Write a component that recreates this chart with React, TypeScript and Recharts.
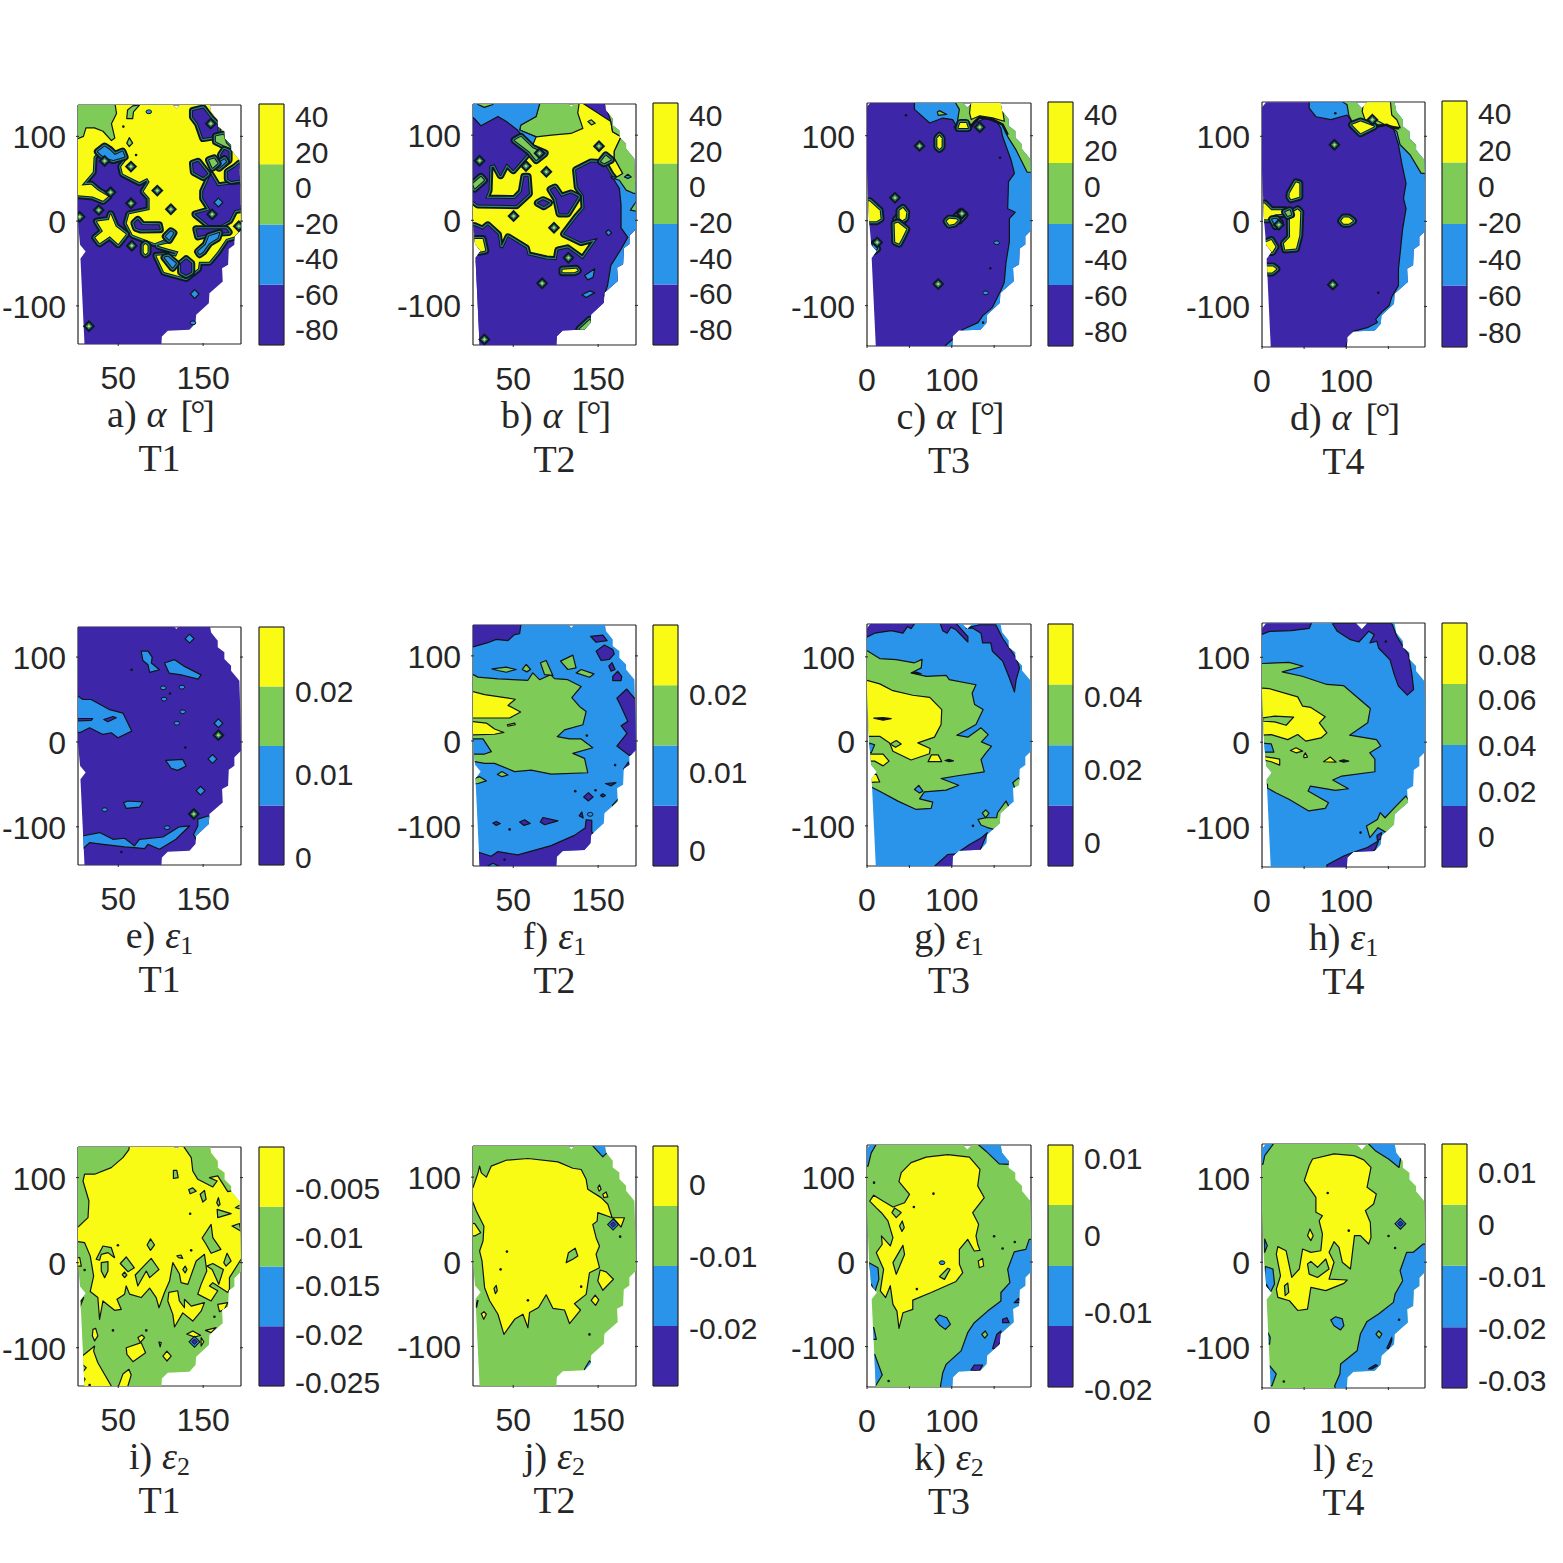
import React from 'react'
import { ComposedChart, ReferenceArea, Scatter, ScatterChart, XAxis, YAxis } from 'recharts'

type Region = { level: number; steep?: boolean; open?: boolean; pts: number[][] }
type Spots = { steep?: number[][]; blue?: number[][]; ring?: number[][]; dot?: number[][]; deep?: number[][] }

const COLORS = ['#3e26a8', '#2a94ea', '#7fcb57', '#f9fb15', '#101418']
const INK = '#262626'

// rim of the measured field, same in all panels
const OUTLINE = [[5, 140], [111.6, 140], [118.5, 133], [124.9, 140], [157.4, 140], [159.4, 129], [167.2, 119.3], [167.2, 111.5], [175, 105.6], [175, 97.7], [182.9, 89.8], [182.9, 84], [192.7, 72.2], [193.9, 30.9], [194.7, -10.4], [186.8, -18.2], [186.8, -28], [180.2, -32.8], [179.4, -51.6], [172.3, -55.6], [173.1, -71.3], [157.4, -85], [156.7, -96.8], [141.8, -110.6], [141, -120.4], [133.9, -128.3], [108.4, -129.4], [101.4, -136.1], [100.6, -150], [10.5, -150], [5.5, -44], [11.6, -36], [5, -28], [2.5, 0], [0, 60], [0, 134]]

const A_REGIONS: Region[] = [
  { level: 3, steep: true, pts: [[-1, 31], [20, 29], [32, 24], [38, 29], [26, 36], [18, 43], [6.5, 42], [20, 58], [21, 76], [32, 88], [38, 80], [52, 80], [57.5, 82], [61, 74], [53.5, 64], [55.5, 56], [75, 46], [84, 51], [87, 46], [80, 35], [87, 27], [87, 13], [63, 8], [60, -2.5], [67, -16], [93, -26], [108, -20], [117, -13], [110, -26], [97, -29], [110, -33], [121, -36], [118, -42], [110, -40], [95, -41], [104, -60], [130, -67], [144, -56], [145, -48], [157, -48], [167, -36], [177, -21], [188, -18], [200, -6], [200, 141], [-1, 141]] },
  { level: 2, pts: [[-1, 140], [46, 140], [48, 127], [42, 115], [46, 98], [42, 95], [32, 106], [22, 110], [12, 110], [9, 100], [-1, 96]] },
  { level: 0, steep: true, pts: [[159, 54.5], [150, 35], [150, 27], [159, 13], [141, 8], [157, -5], [171, -4.5], [181, 1], [187, 13], [200, 15], [200, 43], [185, 43.5], [167, 41]] },
  { level: 0, steep: true, pts: [[138, 130], [150, 133], [159, 121], [167, 113], [167, 104], [163, 100], [150, 98], [144, 115], [138, 123]] },
  { level: 0, steep: true, pts: [[142, -9.6], [177, -9.6], [180, -13], [161, -14], [144, -18]] },
  { level: 1, steep: true, pts: [[144, -36], [153, -28], [157, -18], [169, -14], [167, -20], [157, -26], [150, -36], [146, -39]] },
  { level: 2, steep: true, pts: [[165, 100], [174, 102], [177, 92], [183, 86], [177, 88], [165, 94]] },
  { level: 0, steep: true, pts: [[171, 78], [175, 84], [180, 82], [180, 72], [175, 68]] },
  { level: 1, steep: true, pts: [[165, 66], [175, 73], [177, 70], [169, 63]] },
  { level: 2, steep: true, pts: [[157, 72], [163, 74], [167, 68], [161, 63]] },
  { level: 0, steep: true, pts: [[138, 68], [144, 70], [155, 56], [150, 52], [139, 58]] },
  { level: 0, steep: true, pts: [[179, 58], [187, 63], [193, 68], [200, 68], [200, 50], [183, 47.4], [179, 50]] },
  { level: 0, steep: true, pts: [[69, -2.5], [73, 1.4], [78, -4.5], [98, -5], [99, -9.6], [77, -10], [71, -8]] },
  { level: 3, steep: true, pts: [[25, -0.5], [39, 1.4], [41, 8], [47, -6.4], [59, -15.5], [50, -27], [40, -18], [28, -26], [23, -19.4], [32, -12]] },
  { level: 1, steep: true, pts: [[26, 82], [34, 88], [40, 84], [46, 78], [55, 82], [57.5, 76], [44, 72], [38, 74], [30, 78]] },
  { level: 3, steep: true, pts: [[80, -29], [82, -27], [84.5, -29], [84.5, -37], [82, -39], [80, -37]] },
  { level: 0, steep: true, pts: [[124, -50], [130, -45], [136, -50], [136, -60], [130, -63.4], [124, -60]] },
  { level: 2, pts: [[60, 121], [61, 131], [67, 136], [75, 137], [68, 129], [67, 121]] },
  { level: 2, pts: [[60, 92], [63, 98.5], [67, 92], [63, 88]] },
  { level: 1, steep: true, pts: [[104.5, -43], [108.5, -42], [118, -50], [114, -55]] },
  { level: 1, steep: true, pts: [[106, -18], [112, -12], [115, -14], [110, -22]] },
]
const A_SPOTS: Spots = {
  steep: [[96, 36], [112, 14], [65, 21], [27, 13], [41, 34], [34, 71], [65, 64.3], [66, -29], [4.6, 5], [15.5, -124], [159, 115], [160.6, 8], [192, -6]],
  blue: [[168, 22], [140, -86]],
  ring: [[86, 129], [138, -120]],
  dot: [[56, 111.5], [71, 78]],
}

const B_REGIONS: Region[] = [
  { level: 3, pts: [[-1, 108], [128, 140], [165, 116], [167, 104], [177, 98], [169, 81], [169, 73], [179, 55], [169, 47], [169, -49], [-1, -49]] },
  { level: 0, steep: true, pts: [[124, 59], [142, 68], [157, 67], [165, 53], [170, 47], [200, 47], [200, -160], [-1, -160], [-1, -6], [4.6, -7], [14, -11], [20, -6], [32, -17], [34, -32], [38, -33], [44, -20], [65, -33], [67, -41], [89, -46], [101, -47], [103, -35.5], [114, -33], [132, -46], [150, -20.5], [130, -25.6], [110, -16], [126, 5], [134, 14], [133, 29.5], [126, 39]] },
  { level: 0, steep: true, pts: [[-1, 140], [59, 140], [57.5, 96], [69, 81], [50, 59], [42, 67], [35, 53], [28, 66], [22, 64], [21, 35.4], [17, 25.5], [52, 25], [60, 33.4], [63, 51], [67, 51], [68.5, 31.5], [53.5, 17.7], [8.5, 18.5], [-1, 25.5]] },
  { level: 1, pts: [[165, 51], [200, 51], [200, -49], [177, -73], [157, -89], [161, -77], [165, -53], [177, -34], [185, -20], [177, -9], [177, 18], [175, 37.5], [169, 47]] },
  { level: 2, pts: [[126, 140], [200, 140], [200, 30], [191, 32], [183, 35.4], [175, 47], [169, 49], [179, 55], [169, 73], [169, 81], [177, 98], [167, 104], [165, 116], [157, 140]] },
  { level: 2, pts: [[188, 12], [195, 22.4], [199, 10]] },
  { level: 2, pts: [[81, 140], [128, 140], [126, 126], [132, 108], [118, 102], [95, 100], [77, 98], [57.5, 106], [59, 112], [77, 122]] },
  { level: 1, pts: [[-1, 124], [4.6, 119], [12, 111], [32, 122], [42, 116], [55, 106], [67, 92.5], [73, 88.5], [77, 98], [57.5, 106], [59, 112], [77, 122], [81, 136], [81, 140], [-1, 140]] },
  { level: 2, pts: [[8.5, 140], [8.5, 136], [16, 132.6], [26, 136], [26, 140]] },
  { level: 3, steep: true, pts: [[-1, -22], [14, -22], [17, -35.5], [10.4, -37], [-1, -35.5]] },
  { level: 0, steep: true, pts: [[79, 20.4], [85, 23.6], [92, 20.4], [86, 16.5]] },
  { level: 0, steep: true, pts: [[94, 36], [99, 38.5], [106.5, 27.5], [118, 31.5], [126, 27.5], [114, 8], [104.5, 8], [100.6, 25.6]] },
  { level: 2, steep: true, pts: [[2.6, 43], [12, 51], [15.5, 47], [4.6, 37.4]] },
  { level: 2, steep: true, pts: [[51.6, 94], [59, 98], [73, 84.6], [87, 78.7], [77, 70.8], [69, 80.7]] },
  { level: 2, steep: true, pts: [[153.5, 69], [159, 76], [165, 71], [157, 67]] },
  { level: 2, pts: [[138, 116], [142, 118], [146.5, 114], [142, 112]] },
  { level: 1, pts: [[181, 51], [185, 54], [189, 51], [185, 49]] },
  { level: 1, pts: [[159, -14], [162, -11], [166, -15], [162, -18]] },
  { level: 3, steep: true, pts: [[108, -58], [124, -57], [126, -59], [122, -61], [108, -61]] },
  { level: 1, pts: [[134, -65], [146, -57], [144, -67], [138, -70]] },
  { level: 1, pts: [[131, -87.4], [140, -83], [146, -85], [136, -90.6]] },
  { level: 2, steep: true, pts: [[128, -128], [140, -117], [144, -120], [134, -132]] },
]
const B_SPOTS: Spots = {
  steep: [[10.4, 70], [65, 63.7], [89, 57], [50.4, 5], [98, -8.7], [151, 87], [81, 78.7], [84, -74], [115, -44], [16, -140]],
}

const C_REGIONS: Region[] = [
  { level: 1, pts: [[56, 144.5], [56, 131], [74, 115], [89.4, 120.8], [101, 119], [107, 109], [121, 107], [127, 115], [140.4, 120.8], [154, 115], [158, 109], [160, 99], [170, 71.5], [174, 55.7], [167, 46], [166, 14], [175, 10], [168, 2.4], [168, -25], [164, -49], [162, -72.5], [158, -82], [148, -102], [136.4, -112], [131, -120], [113, -128], [103, -138], [92.5, -147], [97, -159], [211, -159], [211, 144.5]] },
  { level: 2, pts: [[101, 144.5], [109, 131], [107, 119], [107, 109], [117, 107], [127, 117], [133, 123], [148, 119], [160, 113], [166, 99], [176, 83], [189, 57], [211, 57], [211, 144.5]] },
  { level: 3, pts: [[123, 144.5], [121, 127], [123, 119], [133, 123.5], [148, 121], [162, 117], [158, 144.5]] },
  { level: 2, pts: [[83, 128], [85.5, 129.5], [94, 125], [84, 124]] },
  { level: 4, open: true, pts: [[103, 109], [109, 116], [119, 116], [123, 110], [127, 116], [133, 121.6], [148, 119], [160, 113], [166, 101]] },
  { level: 3, steep: true, pts: [[108, 109], [110, 115], [117, 115], [119, 109]] },
  { level: 3, steep: true, pts: [[83, 97], [85.5, 100], [88, 97], [88, 87], [85.5, 84.5], [83, 87]] },
  { level: 3, steep: true, pts: [[-3, 22], [3, 23], [15, 12], [16, 2.4], [11, -0.7], [-3, -0.7]] },
  { level: 1, steep: true, pts: [[34.5, 1.6], [38.4, 5.6], [43, 0.5], [39, -3.5]] },
  { level: 3, steep: true, pts: [[38.4, 12], [42.4, 15], [46.3, 10], [45.5, 3], [41.6, 0.5], [38.4, 3]] },
  { level: 3, steep: true, pts: [[32.6, -3.5], [36.5, -2.3], [46.3, -10], [41, -21], [37.7, -27], [33.3, -25]] },
  { level: 1, steep: true, pts: [[105, 4.4], [111, 10.3], [115, 7], [109, 0.5]] },
  { level: 3, steep: true, pts: [[94, -0.7], [97, 2.4], [105, 1.6], [107, 0.5], [103, -3.5], [97, -4.7]] },
  { level: 1, steep: true, pts: [[5, -31], [9, -27], [12, -33], [8, -36]] },
]
const C_SPOTS: Spots = {
  steep: [[62, 88], [133, 110], [33, 27], [12, -25.6], [84, -74.5], [112, 8.4]],
  ring: [[153, -26], [140, -85]],
  dot: [[157, 74], [145.5, -56], [137, -120], [46, 124]],
}

const D_REGIONS: Region[] = [
  { level: 1, pts: [[56, 145], [56, 133], [64, 123], [82, 119.5], [101, 125], [107, 117], [109, 111.6], [116, 101], [125, 109.6], [148, 113.5], [156, 109.6], [162, 90], [166, 68], [171, 44.6], [168, 27], [171, 15], [167, -8.6], [162, -56], [162, -75.6], [154, -89], [151, -99], [142, -107], [135, -115], [137, -119], [125, -125], [109, -129], [102, -139], [97, -158], [211, -158], [211, 145]] },
  { level: 2, pts: [[89, 145], [101, 137], [103, 125], [107, 117], [121, 117.5], [133, 113.5], [148, 113.5], [160, 105.7], [164, 90], [176, 78], [189, 56.4], [211, 56.4], [211, 145]] },
  { level: 3, pts: [[121, 145], [119, 129], [123, 117.5], [135, 119.5], [146, 113.5], [164, 110], [160, 119.5], [154, 125], [152, 145]] },
  { level: 4, open: true, pts: [[104, 115.5], [116, 101], [125, 109.6], [148, 113.5], [156, 109.6], [163, 109.6]] },
  { level: 3, steep: true, pts: [[107, 113.5], [117, 117.5], [133, 111.6], [117, 103.6]] },
  { level: 3, steep: true, pts: [[33, 33], [40.4, 45.8], [44.3, 44.6], [44.3, 28.8], [34.5, 26], [32.6, 28.8]] },
  { level: 3, steep: true, pts: [[33, 9], [42.4, 14], [45.5, 11], [44.3, -16.5], [40.4, -32], [27.5, -33], [26, -26], [33.3, -18.5]] },
  { level: 3, steep: true, pts: [[-3, 21], [3, 21], [11, 13], [27, 13], [26, 9], [15, 8], [11, 2.4], [-3, 2.4]] },
  { level: 2, steep: true, pts: [[27.5, 11], [33, 13], [34.5, 8], [30.6, 6.4]] },
  { level: 1, steep: true, pts: [[12, 2.4], [17, 3], [21, -1], [16, -5.5]] },
  { level: 3, steep: true, pts: [[-3, -28], [11, -22], [16, -30], [12, -36], [-3, -36]] },
  { level: 3, steep: true, pts: [[-3, -53], [13, -53], [17, -56], [12, -60], [-3, -60]] },
  { level: 3, steep: true, pts: [[94, 0.5], [97, 4.4], [103, 4.4], [108, 0.5], [103, -2.7], [97, -2.7]] },
]
const D_SPOTS: Spots = {
  steep: [[86, 90], [20, -4], [84, -74.4], [131, 119.5]],
  dot: [[87, 127], [138, -84]],
}

const E_REGIONS: Region[] = [
  { level: 1, pts: [[77, 107], [85, 107], [90, 100], [89, 93], [98.6, 85], [87, 82], [85, 91], [79, 96]] },
  { level: 1, pts: [[104.5, 93], [116, 97], [128, 89], [147.6, 79], [144, 74], [126, 78.6], [110, 81]] },
  { level: 1, pts: [[-1, 56], [8.5, 50], [18, 50], [40, 38], [55.5, 34], [66, 12.7], [49.6, 5], [41.8, 10.8], [32, 8.8], [16.3, 16.6], [4.6, 10.8], [-1, 12.7]] },
  { level: 0, pts: [[-1, 27.6], [20, 27.6], [18, 25.3], [-1, 24.5]] },
  { level: 0, pts: [[33, 26.4], [43.8, 30], [47.7, 28.4], [37.9, 23.7]] },
  { level: 1, pts: [[105.7, -21.8], [126, -20.6], [130, -28.4], [120, -33.5], [112.4, -31]] },
  { level: 1, pts: [[56.3, -71.6], [61.4, -69.6], [79, -70.8], [75, -76.7], [59.4, -78.2]] },
  { level: 1, pts: [[7.7, -110.8], [28, -106.8], [43.8, -114.7], [57.5, -113.5], [69, -122.5], [75, -114.7], [102.6, -112], [122, -100], [134, -99], [118, -114.7], [98.6, -126.4], [85, -120.6], [81, -125.7], [69, -124.5], [57.5, -123.7], [32, -120.6], [16.3, -118.6], [7.7, -126.4]] },
  { level: 1, pts: [[143.7, -91], [156.6, -87], [165, -101], [143.7, -118], [138.6, -109], [143.7, -99]] },
]
const E_SPOTS: Spots = {
  steep: [[168, 8], [139, -85]],
  blue: [[134, 121.7], [168, 22], [161, -20], [147, -57.4]],
  ring: [[104, 50.4], [126, 35.5], [119, 22], [125, 64.5], [103, 63.7], [34, -79.8], [107.6, -101]],
  dot: [[65.7, 85], [111, 57], [129, -6.5], [53.6, -129.6]],
}

const F_REGIONS: Region[] = [
  { level: 0, pts: [[-1, 139], [59.4, 139], [57.5, 126], [51.6, 125], [43.8, 118], [30, 119.4], [20, 115.5], [-1, 109.5]] },
  { level: 0, pts: [[141, 123], [155.5, 124.5], [160.6, 118], [147.6, 116]] },
  { level: 0, pts: [[147.6, 105.6], [157.4, 112.7], [167.2, 107.6], [169, 102.4], [163.3, 95.8], [153.5, 94.6]] },
  { level: 0, pts: [[162.5, 88], [166.4, 92], [170, 84], [165.3, 82]] },
  { level: 0, pts: [[167.2, 76], [173, 82], [177.8, 76], [177, 71], [167.2, 71]] },
  { level: 0, pts: [[172, 50.4], [183.7, 61], [192.7, 50.4], [200, 46.5], [200, -12.6], [186.8, -17], [172, -6], [184, 9], [177, 18], [185, 23], [177, 40.6]] },
  { level: 0, pts: [[180, -33], [185.6, -25], [187, -28.4], [181.7, -34]] },
  { level: 0, pts: [[158.6, -50], [171, -49], [165.3, -52.8]] },
  { level: 0, pts: [[133, -65.8], [138.6, -60.7], [144, -65.8], [138.6, -70.5]] },
  { level: 0, pts: [[152.7, -64], [155.5, -62], [158.6, -64], [155.5, -66]] },
  { level: 0, pts: [[127.6, -88], [130.8, -83.5], [132.4, -90.6]] },
  { level: 0, pts: [[9.3, -130.8], [24, -135.5], [32, -130], [55.5, -134], [94.7, -123], [122, -111], [134.7, -102.4], [135.9, -92.6], [142.5, -93.4], [142.5, -107], [157.4, -123], [110.4, -154.4], [9.3, -154.4]] },
  { level: 1, pts: [[20, -147], [26, -143.8], [34, -147.4]] },
  { level: 0, pts: [[26, -96.5], [30, -94.6], [34.7, -97], [30, -99.3]] },
  { level: 0, pts: [[57.5, -95.3], [63.4, -92.6], [70, -97], [62.6, -99.3]] },
  { level: 0, pts: [[81.8, -95.3], [85, -90], [102.6, -94], [86.9, -98.5]] },
  { level: 2, pts: [[-1, 80], [8.5, 75], [32, 73], [67.3, 71.3], [73, 80], [81, 72], [94, 78], [98.6, 73.3], [114.3, 72], [130, 64], [119, 51], [128, 40.6], [135.9, 34.7], [132, 19], [110.4, 13], [101.8, 5], [116.3, 2.4], [130, 2.4], [143.7, -8], [120.2, -14.6], [134, -20.5], [137.8, -37.4], [94.7, -39], [71.2, -34.3], [51.6, -36], [28, -26.4], [16.3, -26.4], [4.6, -24.4], [-1, -24.4]] },
  { level: 3, pts: [[-1, 59], [16.3, 54.4], [52.4, 49], [43.8, 41.8], [58.7, 34], [45.7, 27], [-1, 27]] },
  { level: 3, pts: [[-1, 23], [18.3, 21], [28, 14], [39, 10], [28, 7.9], [-1, 7]] },
  { level: 3, pts: [[43, 19], [51.6, 21], [52.4, 19], [43.8, 17.3]] },
  { level: 1, pts: [[-1, 2.4], [14.4, 2.4], [24.2, -12.6], [16.3, -15.4], [-1, -15.4]] },
  { level: 2, pts: [[25, 84.7], [41.8, 86.7], [53.5, 84], [41.8, 80.8], [32, 82.8]] },
  { level: 2, pts: [[60.6, 84], [65.3, 90], [70.4, 84], [66, 81.2]] },
  { level: 2, pts: [[82, 92], [88.8, 94.6], [96.7, 77], [86.9, 78]] },
  { level: 2, pts: [[105.7, 93.8], [120.2, 100.9], [124, 86], [114.3, 84]] },
  { level: 2, pts: [[124, 80], [130, 84], [145, 78.8], [139.8, 74.9]] },
  { level: 2, pts: [[31.2, -39.4], [36.7, -36], [43.8, -40], [36.7, -42]] },
  { level: 2, pts: [[-1, -46], [10.4, -42], [18.3, -46.9], [8.5, -50], [-1, -51]] },
  { level: 2, pts: [[167, -75.6], [174, -67.8], [177, -75.6], [167, -79.6]] },
]
const F_SPOTS: Spots = {
  ring: [[140.6, -86.3]],
  dot: [[123, -59], [146.9, -58], [45.7, -104], [39.8, -139.5], [170, -28.4], [136.7, 6.3]],
}

const G_REGIONS: Region[] = [
  { level: 0, pts: [[-3, 142], [58, 142], [52, 133.4], [48, 136], [42.4, 128], [28.6, 131], [9, 128], [-3, 122]] },
  { level: 0, pts: [[85.5, 142], [103, 142], [119, 124], [119, 117.6], [105, 132], [99, 135], [94.5, 128], [89.4, 131]] },
  { level: 0, pts: [[117, 134], [132.5, 138], [152, 138], [160, 122], [176, 98.7], [180, 87], [176, 73], [174, 58.5], [168, 75], [160, 95], [148, 106.6], [146, 116.5], [136.4, 116.5], [134.5, 128], [125, 134]] },
  { level: 0, pts: [[80, -147.5], [95, -134], [105, -133], [121, -122], [135, -114], [142, -108], [133, -130], [109, -147.5], [80, -153]] },
  { level: 2, pts: [[-3, 108.6], [1.2, 106.6], [15, 98], [34.5, 96.7], [56, 93], [65, 97], [64, 87], [52, 81], [70, 77], [93.4, 78], [97, 73], [128.6, 67], [124, 57], [127, 43.6], [137, 37.6], [128.6, 20], [106, 7.3], [119, 5], [134.5, 16], [143, 8], [135, -0.6], [147, -5.7], [140.4, -13.6], [134.5, -21.5], [138.4, -36], [105, -41], [87.4, -44], [108.2, -52], [93.4, -57.7], [67.8, -59.7], [62, -68], [77.6, -72], [75.7, -79.4], [58, -80.6], [36.5, -70.7], [15, -59], [5, -54], [-3, -47]] },
  { level: 3, pts: [[-3, 73], [15, 68], [30.6, 60], [54, 54.6], [74, 52], [88.2, 37.6], [87.4, 20], [79.6, 5], [60, -1.8], [74.5, -8.4], [73.7, -14.7], [52, -22], [30.6, -11.6], [26.7, -1.8], [15, 6], [-3, 6]] },
  { level: 2, pts: [[27.4, -3], [34.5, 1], [40.4, -3], [33.7, -7]] },
  { level: 4, pts: [[8, 27.4], [19, 28], [28.6, 27], [19, 25]] },
  { level: 1, pts: [[3, -2], [9, -4], [5, -13.6], [-1, -11.6]] },
  { level: 3, pts: [[-3, -15], [19, -15], [26, -23.4], [19, -29], [9, -23.4], [-3, -23.4]] },
  { level: 3, pts: [[-3, -39], [11, -39], [15, -48], [-3, -49]] },
  { level: 3, pts: [[72, -24], [76, -16], [84, -16], [88.2, -24]] },
  { level: 4, pts: [[92, -22.6], [97, -21.4], [102, -23], [97, -24]] },
  { level: 4, pts: [[53.3, 81], [58, 82], [64, 80], [58, 80]] },
  { level: 1, pts: [[56, -57], [61, -52], [66, -59], [62, -61]] },
  { level: 2, pts: [[131, -92.4], [140, -90.4], [153, -90.4], [154, -84.5], [164, -70.7], [168, -78.6], [156, -106], [142, -102], [134.5, -99]] },
  { level: 2, pts: [[172, -49], [179, -43], [183.5, -51], [176, -59]] },
  { level: 2, pts: [[136, -85], [140, -81], [144, -85], [140, -90.4]] },
]
const G_SPOTS: Spots = { dot: [[125, -100]] }

const H_REGIONS: Region[] = [
  { level: 0, pts: [[-3, 141], [59, 141], [56, 134], [34.5, 131.4], [9, 130.6], [-3, 126]] },
  { level: 0, pts: [[83.5, 140], [154, 140], [160, 124.7], [174, 103], [178, 79.6], [180, 62], [172.5, 55.4], [162, 66], [157, 79.6], [152, 97], [138.4, 111], [136.4, 118.9], [128, 116.9], [133.3, 126.7], [126.6, 130.6], [115, 118], [105, 120.8], [89.4, 130.6]] },
  { level: 0, pts: [[77, -144.6], [97, -134], [105, -131], [125, -124], [138.4, -116], [134.5, -126], [109, -146], [77, -151]] },
  { level: 0, pts: [[136.4, -110], [142, -106.5], [141, -114], [137, -115.6]] },
  { level: 2, pts: [[-3, 92.6], [32, 94], [48.8, 89.5], [24, 82.8], [47.7, 77.7], [77, 68], [96.7, 66.7], [128.6, 39.7], [125.5, 22.8], [104, 8.3], [135.9, 3], [141, -4.6], [128, -12.5], [134, -20], [134, -34.8], [94.7, -39.9], [84, -44.6], [102.6, -54.8], [86.9, -56.8], [57.5, -51.7], [54.7, -57.5], [79, -71.3], [75, -78], [55.5, -81], [32, -67.3], [16.3, -59.5], [6.5, -54], [6.5, -49.7], [-3, -45.8]] },
  { level: 3, pts: [[-3, 64], [9, 63], [42.4, 53.4], [48.2, 42.4], [58, 41], [75, 30], [68, 22.8], [77, 11], [70, 5], [52, 1.3], [42.4, 9], [30.6, 3], [11, 9], [-3, 8.3]] },
  { level: 2, pts: [[1, 28.7], [15, 30.7], [37.6, 29.5], [28.7, 20], [15, 24], [1, 24.7]] },
  { level: 1, pts: [[-3, -0.7], [11, -2], [14.1, -11.7], [-3, -11.7]] },
  { level: 3, pts: [[-3, -16.4], [7, -17.5], [21, -20], [21, -27], [11, -23], [-3, -20]] },
  { level: 3, pts: [[33.7, -9.7], [40.4, -6.6], [48.2, -10.5], [40.4, -12.5]] },
  { level: 3, pts: [[49.4, -16.4], [51.4, -12.5], [54, -17.5], [50, -18.3]] },
  { level: 3, pts: [[73, -23], [81, -17.5], [88, -23.5]] },
  { level: 4, pts: [[92, -22], [97, -20.7], [103, -22.3], [97, -23.4]] },
  { level: 2, pts: [[124, -98.7], [137, -91], [140.3, -83], [146, -89], [157.4, -77], [170.8, -63.4], [177, -73], [159, -104.6], [147.6, -106.5], [137.8, -100.7], [128, -112.4]] },
]
const H_SPOTS: Spots = { dot: [[147, 118.5], [117, -106.5]] }

const I_REGIONS: Region[] = [
  { level: 3, pts: [[63, 141], [62.6, 133], [55.5, 123.5], [41.8, 111.7], [22.2, 104], [10.4, 104], [8.5, 96], [15.5, 72.5], [14.4, 53], [2.6, 42], [-1.3, 41], [-1.3, 25.5], [10.4, 23.5], [17, 8], [21, -15.7], [17, -34], [26, -41], [28, -66.6], [32, -45], [45.7, -56], [53.6, -55], [48.5, -43], [57.5, -37], [59.4, -27.4], [63.4, -37], [77, -41], [87, -30], [94.7, -41], [98, -53], [104.5, -35], [110.4, -21.6], [114.3, 0], [122, -13], [124, -23.5], [132, -25.5], [141.8, 2], [151.6, 9.8], [154.3, -9.8], [147.6, -25.5], [143.7, -37], [159.4, -45], [167.2, -33], [157.4, -27.4], [161.4, -23.5], [179, -35], [181, -31], [181, -17.6], [194.7, 3.9], [200, 6], [200, 141]] },
  { level: 2, pts: [[124, 141], [136, 123.5], [137.8, 107.8], [143.7, 98], [161.4, 89], [166.5, 96], [157.4, 100], [167.2, 102], [179, 83.5], [200, 88], [200, 141]] },
  { level: 2, pts: [[115, 108.6], [119, 108.6], [120.6, 100], [115, 99]] },
  { level: 2, pts: [[133, 86], [137.8, 88], [141.8, 84], [134.7, 81]] },
  { level: 2, pts: [[146.5, 80.5], [151.6, 85], [153.5, 74.5], [149.6, 71.3]] },
  { level: 2, pts: [[166, 70.6], [168, 76.4], [170, 68.6], [168, 66.6]] },
  { level: 2, pts: [[166.5, 62.7], [183, 57.6], [167.2, 53]] },
  { level: 2, pts: [[188, 64.6], [192.7, 67.4], [200, 64.6], [192.7, 63.5]] },
  { level: 2, pts: [[184, 43], [192.7, 46], [194.7, 37]] },
  { level: 2, pts: [[148.8, 29], [159.4, 45], [161.4, 29.4], [171, 15.7], [159.4, 11], [153.5, 21.6]] },
  { level: 2, pts: [[84, 20.8], [88, 28], [92.8, 20.8], [88, 14.5]] },
  { level: 2, pts: [[24, 4], [32, 19.6], [41.8, 17.6], [45.7, 5.9], [37.9, 11.8], [30, 9.8], [28, 2.8]] },
  { level: 2, pts: [[30, 0], [37.9, 1.2], [37.9, -9.8], [34, -17.6], [30, -9.8]] },
  { level: 2, pts: [[52.4, -1], [59.4, 6.7], [69, -6], [61.4, -10.6]] },
  { level: 2, pts: [[70, -14.5], [88.8, 5], [98, -8], [87, -17.6], [83, -9.8], [73, -27.4]] },
  { level: 2, pts: [[54.7, -14], [57.5, -11], [60.2, -14.5], [57.5, -17.6]] },
  { level: 2, pts: [[119, 8], [124, 9], [126, 5], [121, 6]] },
  { level: 2, pts: [[126, -8], [128.8, -4], [131, -8], [128.8, -12]] },
  { level: 2, pts: [[154.3, -4], [161.4, -1], [173.9, -8], [168.4, -25.5], [160.6, -8]] },
  { level: 2, pts: [[174.3, 0], [178.2, 11], [182.9, 2], [177, -4]] },
  { level: 3, pts: [[109.6, -35], [120, -33], [122, -45], [128, -53], [128, -43], [136, -51], [151.6, -47], [147.6, -57], [137.8, -68.6], [126, -59], [116.3, -75.6], [114.3, -60.8], [108.4, -45]] },
  { level: 3, pts: [[167.2, -49], [179, -47], [175, -55], [169.2, -57.6]] },
  { level: 3, pts: [[130.8, -84], [137.8, -80.4], [146.9, -85.5], [139.8, -87.4]] },
  { level: 3, pts: [[152.7, -79.6], [165.3, -76.4], [159.4, -82.3]] },
  { level: 3, pts: [[147.6, -88], [150.8, -93], [147.6, -98]] },
  { level: 3, pts: [[73.2, -88], [77.9, -85], [81, -88], [75.9, -94]] },
  { level: 3, pts: [[59.4, -100], [77, -94], [82.2, -105.8], [67.3, -116.4], [60.2, -107.8]] },
  { level: 3, pts: [[102.6, -109.8], [107.3, -103.9], [112.4, -109.8], [107.3, -115.6]] },
  { level: 3, pts: [[97.9, -93.3], [100.6, -94], [99.4, -99]] },
  { level: 3, pts: [[20.2, -78.4], [23.4, -77.2], [26, -86], [22.2, -92], [19.5, -86]] },
  { level: 3, pts: [[7.7, -109.8], [22.2, -98], [21, -104], [26, -117.6], [41.8, -145], [41.8, -160], [-1.3, -160], [-1.3, -111.7]] },
  { level: 2, pts: [[7.7, -119.6], [12.4, -123.5], [7.7, -129.4]] },
  { level: 2, pts: [[7.7, -133], [11, -137], [8.5, -141]] },
  { level: 3, pts: [[50.4, -145], [55.5, -131], [62.6, -125.4], [65.3, -132], [61.4, -145], [59.4, -160], [50.4, -160]] },
  { level: 3, pts: [[-1.3, 5.9], [4.6, 5.9], [6.5, -4], [-1.3, -4]] },
  { level: 3, pts: [[4.6, -47], [9.3, -41], [4.6, -53]] },
]
const I_SPOTS: Spots = {
  dot: [[49.6, 20.4], [135.9, 14.5], [134.7, 57.6], [43.8, -79.6], [83, -79.6], [163.3, -63.5], [16.3, -143.9], [10.4, -8.6]],
  deep: [[139.8, -93]],
}

const J_REGIONS: Region[] = [
  { level: 3, pts: [[2.6, 87.6], [8.5, 105], [10.4, 113], [12.4, 105], [18.3, 100], [24, 113], [41.8, 120], [67.3, 122], [102.6, 118], [120.2, 110.5], [130, 109], [135.9, 97.4], [137.8, 85.6], [153.5, 75.8], [161.4, 68], [166.5, 52], [149.6, 58], [148.8, 48], [143.7, 44], [147.6, 28.5], [151.6, 18.6], [147.6, 8.8], [151.6, -7], [139.8, -13], [135.9, -38.5], [122, -49.5], [129.2, -57], [116.3, -73], [110.4, -57], [96.7, -55], [88.8, -39], [79.8, -54], [69.2, -60], [67.3, -78], [61.4, -62], [51.6, -68], [39, -85.8], [32, -62], [22.2, -46], [16.3, -30.6], [13.2, 1], [10.4, 12.7], [14.4, 24.6], [15.5, 42], [6.5, 60], [2.6, 70], [-1.3, 78], [-1.3, 87.6]] },
  { level: 2, pts: [[112.4, -1], [115, 10.8], [123, 16], [126, 6.8], [120.2, 3]] },
  { level: 2, pts: [[27.3, -31.4], [30, -28], [31.2, -34.5], [28.9, -37.7]] },
  { level: 3, pts: [[-1.3, 46], [4.6, 45], [11.6, 34.4], [4.6, 30.5], [-1.3, 30.5]] },
  { level: 3, pts: [[149.6, 87.6], [151.6, 90.8], [153.5, 85.6], [151.2, 83.6]] },
  { level: 3, pts: [[155.5, 79.7], [159.4, 82.5], [161.4, 76.6], [156.7, 75.8]] },
  { level: 3, pts: [[167.2, 52], [181, 52], [177, 41], [171, 48]] },
  { level: 3, pts: [[149.6, -22.7], [152.4, -9.7], [159.4, -12], [168, -20.7], [155.5, -33.7]] },
  { level: 3, pts: [[141.8, -45.6], [146.5, -39.3], [150.8, -45], [147, -51.5]] },
  { level: 3, pts: [[12.4, -61.3], [15.5, -59], [18.3, -62], [15.2, -68]] },
  { level: 3, pts: [[5.7, -53.5], [7.7, -46], [8.5, -46], [6.9, -53.5]] },
  { level: 1, pts: [[143.7, 142.8], [143.7, 137], [155.5, 124], [160.6, 129], [161.4, 142.8]] },
  { level: 1, pts: [[133.9, -127], [139.8, -117], [143.7, -121], [135.9, -129]] },
]
const J_SPOTS: Spots = {
  dot: [[42.6, 12], [35.1, -9], [130, -29.4], [67.3, -45.6], [175.9, 29.7], [139.8, -85.8]],
  deep: [[167.6, 44]],
}

const K_REGIONS: Region[] = [
  { level: 3, pts: [[52, 117.4], [69.8, 124], [95.3, 127], [120.8, 124], [133.3, 109.6], [130.6, 90], [138.4, 76], [124.7, 58.3], [131.7, 44.6], [128.6, 30.8], [130.6, 21], [133.3, 13.8], [126.6, 13], [118.8, 26.8], [109, 15], [109, -2.7], [113, -12.6], [105, -23], [75.7, -36], [54, -45], [54, -56], [42.4, -60], [37.7, -78.4], [35.3, -58], [30.6, -50], [27.5, -28], [22, -42], [15.7, -34], [19.6, -8.6], [11, 11], [18, 21], [17, 30.8], [27.5, 19], [30.6, 28.8], [24.7, 48.5], [17, 58.3], [11, 64], [3.2, 72], [7.9, 79], [18.8, 72], [30.6, 65], [44.3, 70], [50.2, 80], [37.7, 95], [40.4, 105.6]] },
  { level: 2, pts: [[29.4, 58.4], [32.6, 64], [40.4, 58.4], [34.5, 52.4]] },
  { level: 2, pts: [[38.4, 42.6], [41.6, 48.5], [44, 40.6], [41.2, 36]] },
  { level: 2, pts: [[30.6, -0.75], [42.4, 19.7], [44.3, 9], [34.5, -14.5]] },
  { level: 2, pts: [[85.5, -17.3], [95.3, -7.4], [98, -8.6], [91.4, -20.5]] },
  { level: 3, pts: [[131.3, 1.2], [136.4, 4.4], [137.6, -4.7], [132.5, -6.7]] },
  { level: 1, pts: [[128.6, 141], [140.4, 131], [156, 116], [167.8, 115.5], [168, 141]] },
  { level: 1, pts: [[-3, 141], [12, 141], [5, 129], [1.2, 113.5], [-3, 111.6]] },
  { level: 1, pts: [[191.3, 26.8], [187.4, 15], [173.7, 12], [166, -8.6], [168.6, -24.4], [158, -36], [158, -46], [142.3, -58], [126.6, -71.7], [118.8, -83.5], [111, -105], [93.3, -121], [89.4, -130.8], [86.7, -146.5], [89.4, -160], [211, -160], [211, 26.8]] },
  { level: 1, pts: [[2.4, -0.75], [13, -6.7], [14, -20.5], [9, -36], [1.2, -34]] },
  { level: 0, pts: [[5, -26], [9, -36], [6.3, -35]] },
  { level: 1, pts: [[80.4, -67.7], [85.5, -62.6], [94.1, -65.8], [98.4, -73.6], [92.5, -79.6], [85.5, -74.4]] },
  { level: 1, pts: [[9, -109], [18, -133.5], [10, -146.5], [3, -146.5], [3, -109]] },
  { level: 1, pts: [[5, -77.6], [8, -77.6], [11, -91.4], [5, -91.4]] },
  { level: 2, pts: [[135.3, -85.5], [139.6, -81.5], [142.3, -86], [139, -90]] },
  { level: 0, pts: [[173.7, -48], [178.8, -43], [183.5, -48]] },
  { level: 0, pts: [[160, -67.7], [165, -65.8], [167.8, -71.7], [160, -71.7]] },
  { level: 0, pts: [[148.2, -102], [153, -85.5], [158, -81.5], [158, -93.3], [152, -103.2]] },
  { level: 0, pts: [[122.7, -127.6], [126.6, -121.7], [136.4, -121.7], [132.5, -128.8]] },
]
const K_SPOTS: Spots = {
  ring: [[88.6, -0.8]],
  dot: [[78.4, 80.8], [55.3, 65], [58.8, -32], [8.3, 93.8], [150, 30.4], [160, 16], [174.4, 23.7], [25.5, -140.6]],
}

const L_REGIONS: Region[] = [
  { level: 3, pts: [[60, 122], [85.5, 128], [109, 126], [120.8, 121], [129.4, 112], [124.7, 88.5], [135.7, 80.6], [132.5, 68.8], [122.7, 61], [128.6, 47], [129.4, 29.4], [126.6, 21.5], [116.8, 31.4], [109.8, 31.4], [105, -8], [95.3, 0], [91.4, 17.6], [85.5, 24.3], [79.6, 11.7], [85.5, 0], [79.6, -19.9], [101.2, -21], [97.2, -25], [75.7, -33.6], [58, -29.7], [54, -55.3], [42.4, -57], [32.6, -45.5], [18.8, -41.5], [17, -31.7], [22, -16], [17, 9.7], [18.8, 18.4], [28.6, 13.6], [35.3, -17.9], [44.3, -8], [48.2, 15.6], [58, 11.7], [69.8, 13.6], [71.8, 33.3], [67.8, 49], [71.8, 55], [64, 59], [64, 76.7], [50.2, 96.4], [56, 114]] },
  { level: 2, pts: [[54, -2], [58, 1], [65.9, -6], [75.7, 3.8], [79.6, -8], [65.9, -18], [56, -14]] },
  { level: 2, pts: [[26.7, -27.7], [30.6, -24.6], [31.8, -35.6], [27.5, -39.5]] },
  { level: 3, pts: [[54.1, 31.4], [56.9, 39.3], [60.8, 31.4], [58, 25.5]] },
  { level: 1, pts: [[-3, 141.7], [14.9, 141.7], [3.2, 126], [1.2, 116], [-3, 114]] },
  { level: 1, pts: [[124.7, 141.7], [134.5, 131.8], [150.2, 122], [162.7, 112], [168, 141.7]] },
  { level: 1, pts: [[191.3, 21.5], [179.6, 11.7], [171.7, 11.7], [163.9, -10], [167, -21.8], [158, -37.6], [156, -47.4], [138.4, -61.2], [124.7, -69.9], [116.8, -84.9], [112.9, -104.6], [93.3, -120.3], [92.5, -132], [86.3, -146], [89.4, -160], [211, -160], [211, 21.5]] },
  { level: 1, pts: [[4, -5], [13, -8], [14.9, -25.8], [9, -37.6], [1.2, -33.6]] },
  { level: 1, pts: [[3.2, 27.4], [6.3, 19.6], [3.2, 11.7]] },
  { level: 1, pts: [[81.6, -68.3], [87.4, -64.4], [95.3, -67], [97.2, -75], [93.3, -80], [85.5, -75]] },
  { level: 1, pts: [[9, -122.3], [16.9, -132], [11.8, -146], [3.2, -146], [3.2, -122.3]] },
  { level: 1, pts: [[7, -83], [9.8, -88.8], [9, -96.7], [5.1, -96.7]] },
  { level: 0, pts: [[5, -25.8], [10.2, -35.6], [6.3, -34.4]] },
  { level: 0, pts: [[148.2, -101.4], [154, -88.8], [154, -92.7], [150.2, -102.6]] },
  { level: 0, pts: [[126.6, -126], [134.5, -121], [137.2, -122], [130.6, -126]] },
  { level: 2, pts: [[135.3, -84.8], [138.4, -81], [142.3, -84.8], [139.2, -89.6]] },
]
const L_SPOTS: Spots = {
  dot: [[78, 81.8], [103, 37.3], [150.2, 31], [158, 16.8], [25.9, -141], [162.7, -67.9]],
  deep: [[164.3, 45.5]],
}

const ALPHA_BAR_TICKS = [40, 20, 0, -20, -40, -60, -80]
const BAR_EDGES = {
  a: [-89, -55.05, -21.1, 12.85, 46.8],
  b: [-89, -55.05, -21.1, 12.85, 46.8],
  c: [-88.3, -54.6, -20.9, 12.9, 46.6],
  d: [-88.3, -54.6, -20.9, 12.9, 46.6],
  e: [-0.001, 0.00618, 0.01335, 0.02053, 0.0277],
  f: [-0.0021, 0.00565, 0.0134, 0.02115, 0.0289],
  g: [-0.0066, 0.01, 0.0265, 0.0431, 0.0597],
  h: [-0.0136, 0.0132, 0.04, 0.0668, 0.0936],
  i: [-0.0254, -0.01924, -0.01309, -0.00693, -0.00077],
  j: [-0.0281, -0.01975, -0.0114, -0.00305, 0.0053],
  k: [-0.0197, -0.0118, -0.004, 0.0039, 0.0117],
  l: [-0.0315, -0.0198, -0.008, 0.0037, 0.0154],
}
const BAR_TICKS = {
  a: ALPHA_BAR_TICKS, b: ALPHA_BAR_TICKS, c: ALPHA_BAR_TICKS, d: ALPHA_BAR_TICKS,
  e: [0.02, 0.01, 0], f: [0.02, 0.01, 0], g: [0.04, 0.02, 0], h: [0.08, 0.06, 0.04, 0.02, 0],
  i: [-0.005, -0.01, -0.015, -0.02, -0.025], j: [0, -0.01, -0.02], k: [0.01, 0, -0.01, -0.02], l: [0.01, 0, -0.01, -0.02, -0.03],
}

const SHORT_X = { ticks: [50, 150], labels: [50, 150] }
const LONG_X = { ticks: [0, 50, 100, 150], labels: [0, 100] }
const X_SHORT_DOMAIN = [2.6, 194.6]
const X_LONG_DOMAIN = [0, 193.5]

const PANELS = [
  { id: 'a', sym: 'alpha', time: 'T1', base: 0, left: 78, top: 105, w: 163, h: 239, barLeft: 259, barTop: 104, barH: 241, x: SHORT_X, xd: X_SHORT_DOMAIN, yd: [-145, 137], regions: A_REGIONS, spots: A_SPOTS },
  { id: 'b', sym: 'alpha', time: 'T2', base: 0, left: 473, top: 104, w: 163, h: 241, barLeft: 653, barTop: 103, barH: 242, x: SHORT_X, xd: X_SHORT_DOMAIN, yd: [-146.5, 136.6], regions: B_REGIONS, spots: B_SPOTS },
  { id: 'c', sym: 'alpha', time: 'T3', base: 0, left: 867, top: 103, w: 164, h: 243, barLeft: 1048, barTop: 102, barH: 244, x: LONG_X, xd: X_LONG_DOMAIN, yd: [-147.5, 138.5], regions: C_REGIONS, spots: C_SPOTS },
  { id: 'd', sym: 'alpha', time: 'T4', base: 0, left: 1262, top: 102, w: 163, h: 245, barLeft: 1442, barTop: 101, barH: 246, x: LONG_X, xd: X_LONG_DOMAIN, yd: [-147.7, 140.3], regions: D_REGIONS, spots: D_SPOTS },
  { id: 'e', sym: 'eps1', time: 'T1', base: 0, left: 78, top: 627, w: 163, h: 238, barLeft: 259, barTop: 627, barH: 238, x: SHORT_X, xd: X_SHORT_DOMAIN, yd: [-145, 135.4], regions: E_REGIONS, spots: E_SPOTS },
  { id: 'f', sym: 'eps1', time: 'T2', base: 1, left: 473, top: 625, w: 163, h: 241, barLeft: 653, barTop: 625, barH: 241, x: SHORT_X, xd: X_SHORT_DOMAIN, yd: [-147, 136.3], regions: F_REGIONS, spots: F_SPOTS },
  { id: 'g', sym: 'eps1', time: 'T3', base: 1, left: 867, top: 624, w: 164, h: 242, barLeft: 1048, barTop: 624, barH: 242, x: LONG_X, xd: X_LONG_DOMAIN, yd: [-147.5, 138.9], regions: G_REGIONS, spots: G_SPOTS },
  { id: 'h', sym: 'eps1', time: 'T4', base: 1, left: 1262, top: 623, w: 163, h: 244, barLeft: 1442, barTop: 623, barH: 244, x: LONG_X, xd: X_LONG_DOMAIN, yd: [-147, 140.4], regions: H_REGIONS, spots: H_SPOTS },
  { id: 'i', sym: 'eps2', time: 'T1', base: 2, left: 78, top: 1147, w: 163, h: 239, barLeft: 259, barTop: 1147, barH: 239, x: SHORT_X, xd: X_SHORT_DOMAIN, yd: [-145, 136], regions: I_REGIONS, spots: I_SPOTS },
  { id: 'j', sym: 'eps2', time: 'T2', base: 2, left: 473, top: 1146, w: 163, h: 240, barLeft: 653, barTop: 1146, barH: 240, x: SHORT_X, xd: X_SHORT_DOMAIN, yd: [-146.8, 136.8], regions: J_REGIONS, spots: J_SPOTS },
  { id: 'k', sym: 'eps2', time: 'T3', base: 2, left: 867, top: 1145, w: 164, h: 242, barLeft: 1048, barTop: 1145, barH: 242, x: LONG_X, xd: X_LONG_DOMAIN, yd: [-147.7, 138.3], regions: K_REGIONS, spots: K_SPOTS },
  { id: 'l', sym: 'eps2', time: 'T4', base: 2, left: 1262, top: 1144, w: 163, h: 244, barLeft: 1442, barTop: 1144, barH: 244, x: LONG_X, xd: X_LONG_DOMAIN, yd: [-148.6, 139.7], regions: L_REGIONS, spots: L_SPOTS },
]

const toPoints = (pts: number[][]) => pts.map(([x, y]) => ({ x, y }))
const pathOf = (points: any[], close = true) =>
  points.map((p, i) => `${i ? 'L' : 'M'}${p.x} ${p.y}`).join(' ') + (close ? ' Z' : '')

// Scatter hands its scaled points to `line`, so every contour goes through the axes
const rimLine = (clipId: string, fill: string) => (props: any) => {
  const d = pathOf(props.points)
  return (
    <g>
      <clipPath id={clipId}><path d={d} /></clipPath>
      <path d={d} fill={fill} stroke="none" />
    </g>
  )
}

const contourLine = (r: Region, clipId: string) => (props: any) => {
  const d = pathOf(props.points, !r.open)
  if (r.open) {
    return <g clipPath={`url(#${clipId})`}><path d={d} fill="none" stroke="#101418" strokeWidth={2.6} /></g>
  }
  if (r.steep) {
    // packed contour lines at a sharp jump: dark, teal, dark, then the fill on top
    return (
      <g clipPath={`url(#${clipId})`} strokeLinejoin="round">
        <path d={d} fill="none" stroke="#0e1824" strokeWidth={8} />
        <path d={d} fill="none" stroke="#2f8273" strokeWidth={4.2} />
        <path d={d} fill="none" stroke="#0e1824" strokeWidth={2} />
        <path d={d} fill={COLORS[r.level]} stroke="none" />
      </g>
    )
  }
  return <g clipPath={`url(#${clipId})`}><path d={d} fill={COLORS[r.level]} stroke="#101418" strokeWidth={1.2} strokeLinejoin="round" /></g>
}

const noMark = () => <g />

const diamond = (cx: number, cy: number, r: number) =>
  `M${cx} ${cy - r}L${cx + r} ${cy}L${cx} ${cy + r}L${cx - r} ${cy}Z`

const SteepSpot = ({ cx, cy }: any) => (
  <g>
    <path d={diamond(cx, cy, 6.2)} fill="#0e1824" />
    <path d={diamond(cx, cy, 3.4)} fill="#2f8273" />
    <path d={diamond(cx, cy, 1.6)} fill="#c4dc48" />
  </g>
)
const BlueSpot = ({ cx, cy }: any) => <path d={diamond(cx, cy, 4.4)} fill={COLORS[1]} stroke="#101418" strokeWidth={1.1} />
const DeepSpot = ({ cx, cy }: any) => (
  <g>
    <path d={diamond(cx, cy, 5.4)} fill={COLORS[1]} stroke="#101418" strokeWidth={1.1} />
    <path d={diamond(cx, cy, 2.8)} fill={COLORS[0]} stroke="#101418" strokeWidth={1} />
  </g>
)
const RingSpot = ({ cx, cy }: any) => <ellipse cx={cx} cy={cy} rx={2.8} ry={1.9} fill={COLORS[1]} stroke="#101418" strokeWidth={1} />
const DotSpot = ({ cx, cy }: any) => <ellipse cx={cx} cy={cy} rx={1.3} ry={1.3} fill="#101418" />

const XTick = ({ x, y, payload, labels }: any) => (
  <g>
    <line x1={x} x2={x} y1={y} y2={y - 3} stroke={INK} strokeWidth={1} />
    {labels.includes(payload.value) && (
      <text x={x} y={y + 43} textAnchor="middle" fontSize={32} fontFamily="Liberation Sans" fill={INK}>{payload.value}</text>
    )}
  </g>
)
const TopTick = ({ x, y }: any) => <line x1={x} x2={x} y1={y} y2={y + 3} stroke={INK} strokeWidth={1} />
const YTick = ({ x, y, payload }: any) => (
  <g>
    <line x1={x} x2={x + 3} y1={y} y2={y} stroke={INK} strokeWidth={1} />
    <text x={x - 10} y={y + 12} textAnchor="end" fontSize={32} fontFamily="Liberation Sans" fill={INK}>{payload.value}</text>
  </g>
)
const RightTick = ({ x, y }: any) => <line x1={x} x2={x - 3} y1={y} y2={y} stroke={INK} strokeWidth={1} />
const BarTick = ({ x, y, payload }: any) => (
  <text x={x + 9} y={y + 11} fontSize={30} fontFamily="Liberation Sans" fill={INK}>{payload.value}</text>
)

const axisLine = { stroke: INK, strokeWidth: 1.2 }

function Panel({ p }: { p: (typeof PANELS)[number] }) {
  const clipId = `rim-${p.id}`
  const spots = p.spots as Spots
  return (
    <div style={{ position: 'absolute', left: p.left - 78, top: p.top - 10 }}>
      <ScatterChart width={78 + p.w + 10} height={10 + p.h + 60} margin={{ top: 0, right: 0, bottom: 0, left: 0 }}>
        <Scatter xAxisId="b" yAxisId="l" data={toPoints(OUTLINE)} line={rimLine(clipId, COLORS[p.base])} shape={noMark} isAnimationActive={false} />
        {p.regions.map((r, i) => (
          <Scatter key={i} xAxisId="b" yAxisId="l" data={toPoints(r.pts)} line={contourLine(r, clipId)} shape={noMark} isAnimationActive={false} />
        ))}
        {spots.steep && <Scatter xAxisId="b" yAxisId="l" data={toPoints(spots.steep)} shape={SteepSpot} isAnimationActive={false} />}
        {spots.blue && <Scatter xAxisId="b" yAxisId="l" data={toPoints(spots.blue)} shape={BlueSpot} isAnimationActive={false} />}
        {spots.deep && <Scatter xAxisId="b" yAxisId="l" data={toPoints(spots.deep)} shape={DeepSpot} isAnimationActive={false} />}
        {spots.ring && <Scatter xAxisId="b" yAxisId="l" data={toPoints(spots.ring)} shape={RingSpot} isAnimationActive={false} />}
        {spots.dot && <Scatter xAxisId="b" yAxisId="l" data={toPoints(spots.dot)} shape={DotSpot} isAnimationActive={false} />}
        <XAxis xAxisId="b" type="number" dataKey="x" domain={p.xd} allowDataOverflow ticks={p.x.ticks} interval={0} height={60} tickSize={0} tickLine={false} axisLine={axisLine} tick={(t: any) => <XTick {...t} labels={p.x.labels} />} />
        <XAxis xAxisId="t" orientation="top" type="number" domain={p.xd} allowDataOverflow ticks={p.x.ticks} interval={0} height={10} tickSize={0} tickLine={false} axisLine={axisLine} tick={TopTick} />
        <YAxis yAxisId="l" type="number" dataKey="y" domain={p.yd} allowDataOverflow ticks={[-100, 0, 100]} interval={0} width={78} tickSize={0} tickLine={false} axisLine={axisLine} tick={YTick} />
        <YAxis yAxisId="r" orientation="right" type="number" domain={p.yd} allowDataOverflow ticks={[-100, 0, 100]} interval={0} width={10} tickSize={0} tickLine={false} axisLine={axisLine} tick={RightTick} />
      </ScatterChart>
    </div>
  )
}

function ColorBar({ p }: { p: (typeof PANELS)[number] }) {
  const edges = BAR_EDGES[p.id as keyof typeof BAR_EDGES]
  const ticks = BAR_TICKS[p.id as keyof typeof BAR_TICKS]
  const domain = [edges[0], edges[4]]
  return (
    <div style={{ position: 'absolute', left: p.barLeft - 10, top: p.barTop - 10 }}>
      <ComposedChart width={10 + 25 + 115} height={p.barH + 40} data={[{ x: 0 }, { x: 1 }]} margin={{ top: 0, right: 0, bottom: 0, left: 0 }}>
        {[0, 1, 2, 3].map(i => (
          <ReferenceArea key={i} xAxisId="b" yAxisId="r" x1={0} x2={1} y1={edges[i]} y2={edges[i + 1]} fill={COLORS[i]} fillOpacity={1} stroke="none" />
        ))}
        <XAxis xAxisId="b" type="number" dataKey="x" domain={[0, 1]} ticks={[]} height={30} tick={false} tickLine={false} axisLine={axisLine} />
        <XAxis xAxisId="t" orientation="top" type="number" domain={[0, 1]} ticks={[]} height={10} tick={false} tickLine={false} axisLine={axisLine} />
        <YAxis yAxisId="l" type="number" domain={domain} ticks={[]} width={10} tick={false} tickLine={false} axisLine={axisLine} />
        <YAxis yAxisId="r" orientation="right" type="number" domain={domain} allowDataOverflow ticks={ticks} interval={0} width={115} tickSize={0} tickLine={false} axisLine={axisLine} tick={BarTick} />
      </ComposedChart>
    </div>
  )
}

const serif: React.CSSProperties = {
  position: 'absolute', width: 240, textAlign: 'center', fontFamily: 'Liberation Serif', fontSize: 38, lineHeight: '40px', color: INK, whiteSpace: 'pre',
}

function Symbol({ sym }: { sym: string }) {
  if (sym === 'alpha') return <span style={{ marginLeft: 10 }}><i>α</i><span style={{ marginLeft: 14, letterSpacing: -3 }}>[°]</span></span>
  const n = sym === 'eps1' ? '1' : '2'
  return <span style={{ marginLeft: 10 }}><i>ε</i><span style={{ fontSize: 26, verticalAlign: -6 }}>{n}</span></span>
}

export default function App() {
  return (
    <div style={{ position: 'absolute', left: 0, top: 0, width: 1563, height: 1563, background: '#fff', overflow: 'hidden' }}>
      {PANELS.map(p => (
        <React.Fragment key={p.id}>
          <Panel p={p} />
          <ColorBar p={p} />
          <div style={{ ...serif, left: p.left + p.w / 2 - 120, top: p.top + p.h + 70 - 20 }}>
            {p.id})<Symbol sym={p.sym} />
          </div>
          <div style={{ ...serif, left: p.left + p.w / 2 - 120, top: p.top + p.h + 114 - 20 }}>{p.time}</div>
        </React.Fragment>
      ))}
    </div>
  )
}
